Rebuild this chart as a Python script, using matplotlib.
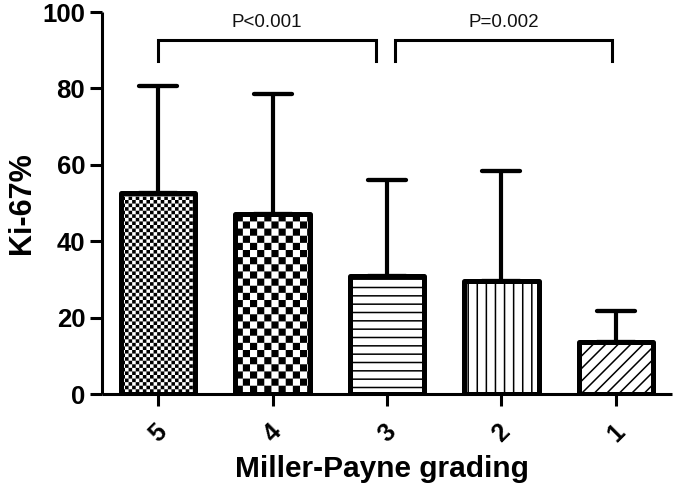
import numpy as np
import matplotlib
matplotlib.use("Agg")
import matplotlib.pyplot as plt
import matplotlib.hatch as mhatch
from matplotlib.path import Path
from matplotlib.markers import MarkerStyle

# ---------------- data ----------------
categories = ["5", "4", "3", "2", "1"]
means = [52.5, 47.0, 31.0, 29.5, 13.5]
sd_upper = [28.0, 31.5, 25.0, 29.0, 8.3]
hatches = ["o", "O", "--", "||", "//"]
ylabel = "Ki-67%"
xlabel = "Miller-Payne grading"
comparisons = [(0, 1.9, "P<0.001"), (2.07, 3.97, "P=0.002")]
bracket_y = 92.6
bracket_arm = 87.2
yticks = [0, 20, 40, 60, 80, 100]

HATCH_LW = 1.1  # points
plt.rcParams['hatch.linewidth'] = HATCH_LW


# ------------- custom hatches -------------
class _Checker(mhatch.HatchPatternBase):
    char = 'o'
    cells = 28

    def __init__(self, hatch, density):
        self.n = hatch.count(self.char) * self.cells
        self.num_vertices = (self.n * self.n // 2) * 5

    def set_vertices_and_codes(self, vertices, codes):
        n = self.n
        s = 1.0 / n
        m = (HATCH_LW * 100 / 72.0) / 2.0 / 100.0
        idx = 0
        for i in range(n):
            for j in range(n):
                if (i + j) % 2 == 0:
                    x0, y0 = i * s + m, j * s + m
                    x1, y1 = (i + 1) * s - m, (j + 1) * s - m
                    vertices[idx:idx + 5] = [[x0, y0], [x1, y0], [x1, y1],
                                             [x0, y1], [x0, y0]]
                    codes[idx:idx + 5] = [Path.MOVETO, Path.LINETO,
                                          Path.LINETO, Path.LINETO,
                                          Path.CLOSEPOLY]
                    idx += 5


class FineChecker(_Checker):
    char = 'o'
    cells = 28


class CoarseChecker(_Checker):
    char = 'O'
    cells = 14


class DenseNE(mhatch.NorthEastHatch):
    def __init__(self, hatch, density):
        super().__init__(hatch, 8)


class SparseV(mhatch.VerticalHatch):
    def __init__(self, hatch, density):
        super().__init__(hatch, 5.5)


_new_types = []
for t in mhatch._hatch_types:
    if t is mhatch.SmallCircles:
        _new_types.append(FineChecker)
    elif t is mhatch.LargeCircles:
        _new_types.append(CoarseChecker)
    elif t is mhatch.NorthEastHatch:
        _new_types.append(DenseNE)
    elif t is mhatch.VerticalHatch:
        _new_types.append(SparseV)
    else:
        _new_types.append(t)
mhatch._hatch_types = _new_types

# ---------------- figure ----------------
fig = plt.figure(figsize=(6.75, 4.88), dpi=100)
ax = fig.add_axes([102 / 675, 1 - 394 / 488, 570 / 675, 382 / 488])

x = np.arange(len(categories))
lower = np.zeros(len(means))
eb = ax.errorbar(x, means, yerr=[lower, sd_upper], fmt='none', ecolor='black',
                 elinewidth=3.0, capsize=13.5, capthick=3.1, zorder=1)
for cl in eb[1]:
    cl.set_marker(MarkerStyle('_', capstyle='round'))

bars = ax.bar(x, means, width=0.65, color='white', edgecolor='black',
              linewidth=3.6, zorder=2)
for b, h in zip(bars, hatches):
    b.set_hatch(h)
    b.set_joinstyle('round')

# significance brackets
for x0, x1, txt in comparisons:
    ax.plot([x0, x0, x1, x1], [bracket_arm, bracket_y, bracket_y, bracket_arm],
            color='black', lw=2.2, clip_on=False, solid_joinstyle='miter',
            zorder=3)
    ax.text((x0 + x1) / 2, 96.1, txt, ha='center', va='baseline',
            fontsize=13.5, family='Liberation Sans', color='#111111')

ax.set_xlim(-0.49, 4.49)
ax.set_ylim(0, 100)
ax.set_yticks(yticks)
ax.set_xticks(x)
ax.set_xticklabels(categories, rotation=45, ha='center', va='top',
                   fontsize=18, fontweight='bold', family='Liberation Sans')
ax.set_yticklabels([str(v) for v in yticks], fontsize=18.5, fontweight='bold',
                   family='Liberation Sans')

for s in ['top', 'right']:
    ax.spines[s].set_visible(False)
for s in ['left', 'bottom']:
    ax.spines[s].set_linewidth(2.2)
    ax.spines[s].set_capstyle('butt')

ax.tick_params(axis='y', length=8.6, width=2.2, pad=3.5)
ax.tick_params(axis='x', length=8.6, width=2.2, pad=10)

ax.set_ylabel(ylabel, fontsize=22, fontweight='bold', family='Liberation Sans')
ax.yaxis.set_label_coords(-0.114, 0.5)
ax.set_xlabel(xlabel, fontsize=21.5, fontweight='bold', family='Liberation Sans')
ax.xaxis.set_label_coords(0.491, -0.16)

fig.savefig("out.png", dpi=100)
